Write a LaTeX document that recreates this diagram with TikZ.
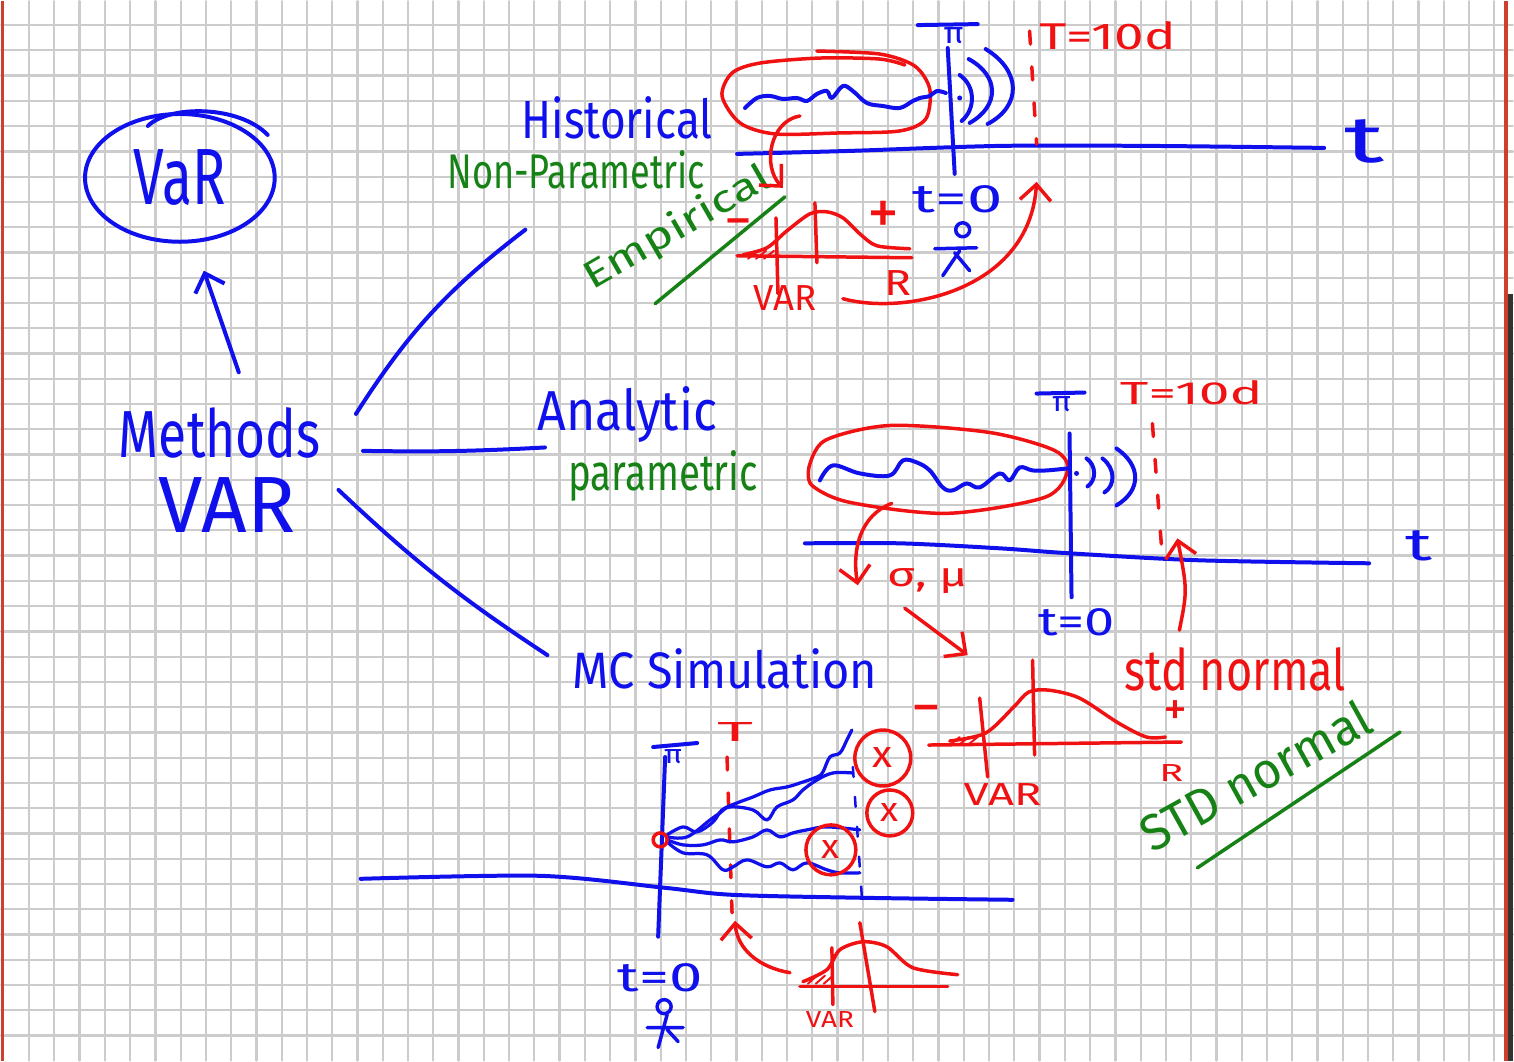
\documentclass[tikz,border=0pt]{standalone}
\usepackage{fontspec}
\setmainfont{Fira Sans}
\usetikzlibrary{arrows.meta,calc,shapes.geometric}
\definecolor{inkblue}{RGB}{16,16,236}
\definecolor{inkred}{RGB}{240,18,18}
\definecolor{inkgreen}{RGB}{22,130,22}
\definecolor{gridgray}{RGB}{204,204,204}
\definecolor{rim}{RGB}{204,64,44}
\newlength\pxu
\setlength\pxu{0.02cm}
\newcommand\hand[3]{\resizebox{#1\pxu}{#2\pxu}{#3}}
\newcommand\sign[2]{\resizebox{#1\pxu}{!}{#2}}

\begin{document}
\begin{tikzpicture}[x=0.02cm,y=-0.02cm,line cap=round,line join=round,
  >={Straight Barb[length=0.32cm,width=0.62cm]},
  blue ink/.style={line width=0.08cm,inkblue},
  red ink/.style={line width=0.07cm,inkred},
  green ink/.style={line width=0.07cm,inkgreen},
  word/.style={inner sep=0pt,anchor=base},
  redash/.style={red ink,dash pattern=on 0.26cm off 0.46cm},
  hit/.style={circle,draw,red ink,inner sep=0pt}]
\fill[white](0,0)rectangle(1514,1061);
\foreach \i in {1,...,59}\draw[gridgray,line width=0.045cm]({2.7+25.3*\i},0)--++(0,1061);
\foreach \j in {1,...,41}\draw[gridgray,line width=0.045cm](0,{-1.3+25.3*\j})--++(1514,0);
\fill[rim](0,0)rectangle(3,1061);
\fill[rim](1505,0)rectangle(1509,1061);
\fill[black!80](1509,293)rectangle(1514,1061);
\useasboundingbox(0,0)rectangle(1514,1061);
\node[ellipse,draw,blue ink,minimum width=3.8cm,minimum height=2.56cm,inner sep=0pt](vaR)at(179,177){\hand{92}{55}{VaR}};
\draw[blue ink](147,125)..controls(168,104)and(238,104)..(267,134);
\node[word,inkblue](methods)at(219,457){\hand{202}{50}{Methods}};
\node[word,inkblue](var)at(226,532){\hand{137}{55}{VAR}};
\draw[blue ink,->]($(methods.north)+(19,-35)$)--($(vaR.south)+(24,27)$);
\node[word,inkblue](hist)at(617,138){\hand{191}{42}{Historical}};
\node[word,inkgreen](nonpar)at(576,188){\hand{258}{38}{Non-Parametric}};
\node[word,inkgreen,rotate=30](empir)at(683,237){\hand{210}{30}{Empirical}};
\draw[green ink](655,303)--(785,196);
\node[word,inkblue](analytic)at(627,430){\hand{180}{44}{Analytic}};
\node[word,inkgreen](param)at(663,490){\hand{190}{40}{parametric}};
\node[word,inkblue](mcsim)at(725,688){\hand{305}{40}{MC Simulation}};
\draw[blue ink]($(methods.east)+(35,-19)$)to[bend left=10]($(nonpar.south)+(-51,40)$);
\draw[blue ink]($(methods.east)+(42,18)$)to[bend right=2]($(analytic.base west)+(8,17)$);
\draw[blue ink]($(var.east)+(43,-15)$)to[bend right=5]($(mcsim.base west)+(-25,-33)$);
\draw[red ink]plot[smooth]coordinates{(817,50)(880,53)(915,65)(930,88)(926,118)(900,130)(840,132)(775,133)(740,122)(722,95)(732,72)(760,62)(820,57)(880,58)(905,64)};
\draw[blue ink]plot[smooth,tension=.6]coordinates{(745,107)(757,97)(770,95)(783,98)(797,97)(807,100)(817,93)(827,90)(832,97)(843,85)(853,90)(867,102)(883,105)(900,107)(913,100)(920,97)(930,95)(937,90)(946,92)};
\draw[blue ink](948,47)--(955,173)(918,24)--(978,23);
\node[inkblue,inner sep=0pt](pi1)at(954,35){\hand{20}{16}{π}};
\draw[blue ink]plot[smooth]coordinates{(737,153)(850,150)(1000,145)(1150,145)(1325,147)};
\fill[inkblue](960,97)circle(2.5);
\draw[blue ink](960,74)..controls(976,85)and(976,108)..(962,120)(969,58)..controls(1000,75)and(1000,105)..(970,122)(986,48)..controls(1022,70)and(1022,105)..(988,123);
\draw[redash](1030,30)--(1037,143);
\node[word,inkred](tten1)at(1108,48){\hand{137}{28}{T=10d}};
\node[word,inkblue](tax1)at(1365,162){\hand{40}{43}{t}};
\node[word,inkblue](tzero1)at(958,212){\hand{90}{27}{t=0}};
\draw[blue ink,line width=0.07cm](963,229)circle(7)(935,248)--(977,247)(960,250)--(943,275)(955,252)--(970,270);
\draw[red ink,->](800,115)..controls(770,120)and(762,165)..(783,187);
\draw[red ink](737,255)--(912,257);
\draw[red ink]plot[smooth]coordinates{(743,254)(767,247)(787,230)(810,213)(827,211)(843,217)(860,233)(877,245)(910,248)};
\draw[red ink](815,202)--(817,262)(776,217)--(778,293);
\foreach \x in {0,8,16}\draw[inkred,line width=0.04cm]({748+\x},258)--({758+\x},250);
\node[inkred,inner sep=0pt](minus1)at(738,228){\sign{28}{−}};
\node[inkred,inner sep=0pt](plus1)at(884,217){\sign{32}{+}};
\node[word,inkred](vtop)at(785,310){\hand{63}{25}{VAR}};
\node[word,inkred](rtop)at(898,295){\hand{27}{25}{R}};
\draw[red ink,->](843,298)..controls(905,315)and(1030,290)..(1037,181);
\draw[red ink]plot[smooth]coordinates{(809,467)(825,440)(890,425)(990,432)(1055,450)(1068,470)(1045,497)(947,513)(850,502)(812,485)(809,467)};
\draw[blue ink]plot[smooth,tension=.6]coordinates{(820,480)(833,465)(860,473)(890,475)(903,460)(917,462)(930,470)(943,487)(953,490)(967,483)(980,487)(1000,473)(1010,480)(1020,467)(1033,470)(1047,470)(1068,468)};
\draw[blue ink](1070,433)--(1072,597)(1037,393)--(1085,392);
\node[inkblue,inner sep=0pt](pi2)at(1062,404){\hand{19}{15}{π}};
\fill[inkblue](1077,473)circle(2.5);
\draw[blue ink](1087,458)..controls(1097,465)and(1097,480)..(1088,486)(1103,458)..controls(1116,468)and(1116,485)..(1105,492)(1117,448)..controls(1142,465)and(1142,490)..(1117,505);
\draw[redash](1153,423)--(1162,545);
\node[word,inkred](tten2)at(1192,404){\hand{143}{24}{T=10d}};
\draw[blue ink]plot[smooth]coordinates{(805,543)(900,543)(1000,548)(1070,553)(1200,560)(1370,563)};
\node[word,inkblue](tax2)at(1420,560){\hand{27}{30}{t}};
\node[word,inkblue](tzero2)at(1077,635){\hand{77}{27}{t=0}};
\draw[red ink,->](892,503)..controls(860,515)and(852,550)..(858,585);
\node[word,inkred](sigmu)at(928,586){\hand{80}{18}{σ, μ}};
\draw[red ink,->](905,608)--(968,655);
\draw[red ink,->](1180,630)..controls(1188,590)..(1178,538);
\draw[red ink](929,745)--(1182,742);
\draw[red ink]plot[smooth]coordinates{(950,741)(986,733)(1014,707)(1029,692)(1049,690)(1080,698)(1119,723)(1147,737)(1166,737)};
\draw[red ink](1033,660)--(1035,755)(980,698)--(988,777);
\foreach \x in {0,9,18}\draw[inkred,line width=0.04cm]({950+\x},745)--({960+\x},737);
\node[inkred,inner sep=0pt](minus2)at(927,716){\sign{30}{−}};
\node[inkred,inner sep=0pt](plus2)at(1176,713){\sign{24}{+}};
\node[word,inkred](vmid)at(1003,806){\hand{78}{22}{VAR}};
\node[word,inkred](rmid)at(1172,782){\hand{24}{17}{R}};
\node[word,inkred](stdn)at(1236,690){\hand{222}{43}{std normal}};
\node[word,inkgreen,rotate=29](stdg)at(1265,792){\hand{255}{38}{STD normal}};
\draw[green ink](1198,868)--(1401,732);
\draw[blue ink](665,757)--(658,937)(653,747)--(697,743);
\node[inkblue,inner sep=0pt](pi3)at(673,757){\hand{18}{14}{π}};
\draw[blue ink]plot[smooth]coordinates{(360,879)(540,876)(665,888)(732,895)(863,898)(1013,900)};
\draw[redash](727,757)--(732,913);
\node[word,inkred](tmc)at(735,741){\hand{36}{19}{T}};
\draw[blue ink,dash pattern=on 0.2cm off 0.4cm,line width=0.05cm](853,767)--(862,897);
\begin{scope}[blue ink,line width=0.065cm]
\draw plot[smooth,tension=.6]coordinates{(667,835)(683,827)(697,832)(713,822)(722,810)(737,803)(753,797)(770,790)(787,787)(800,783)(817,777)(823,772)(830,757)(840,753)(847,740)(852,730)};
\draw plot[smooth,tension=.6]coordinates{(667,837)(687,837)(710,820)(720,813)(730,807)(753,810)(767,820)(777,807)(793,800)(803,790)(817,780)(833,773)(853,773)};
\draw plot[smooth,tension=.6]coordinates{(667,840)(683,845)(703,845)(720,840)(733,842)(753,837)(767,830)(780,837)(793,833)(807,830)(827,827)(860,830)};
\draw plot[smooth,tension=.6]coordinates{(667,842)(683,853)(707,855)(723,870)(733,867)(747,860)(767,867)(780,863)(793,870)(807,863)(827,870)(840,873)(860,873)};
\end{scope}
\draw[red ink](660,840)circle(7);
\node[hit,minimum size=1.12cm](hit1)at(883,758){\hand{20}{20}{x}};
\node[hit,minimum size=0.92cm](hit2)at(890,813){\hand{18}{18}{x}};
\node[hit,minimum size=1cm](hit3)at(831,850){\hand{18}{18}{x}};
\draw[red ink,->](790,973)..controls(760,968)and(737,950)..(735,921);
\draw[red ink](800,987)--(948,987);
\draw[red ink]plot[smooth]coordinates{(803,982)(827,970)(840,950)(863,942)(887,947)(913,968)(958,975)};
\draw[red ink](860,923)--(875,1012)(832,948)--(833,1005);
\foreach \x in {0,8,16}\draw[inkred,line width=0.04cm]({808+\x},984)--({817+\x},976);
\node[word,inkred](vbot)at(830,1028){\hand{48}{16}{VAR}};
\node[word,inkblue](tzero3)at(660,992){\hand{85}{28}{t=0}};
\draw[blue ink,line width=0.07cm](664,1007)circle(7)(647,1028)--(683,1028)(667,1015)--(658,1048)(667,1030)--(678,1042);
\end{tikzpicture}
\end{document}
